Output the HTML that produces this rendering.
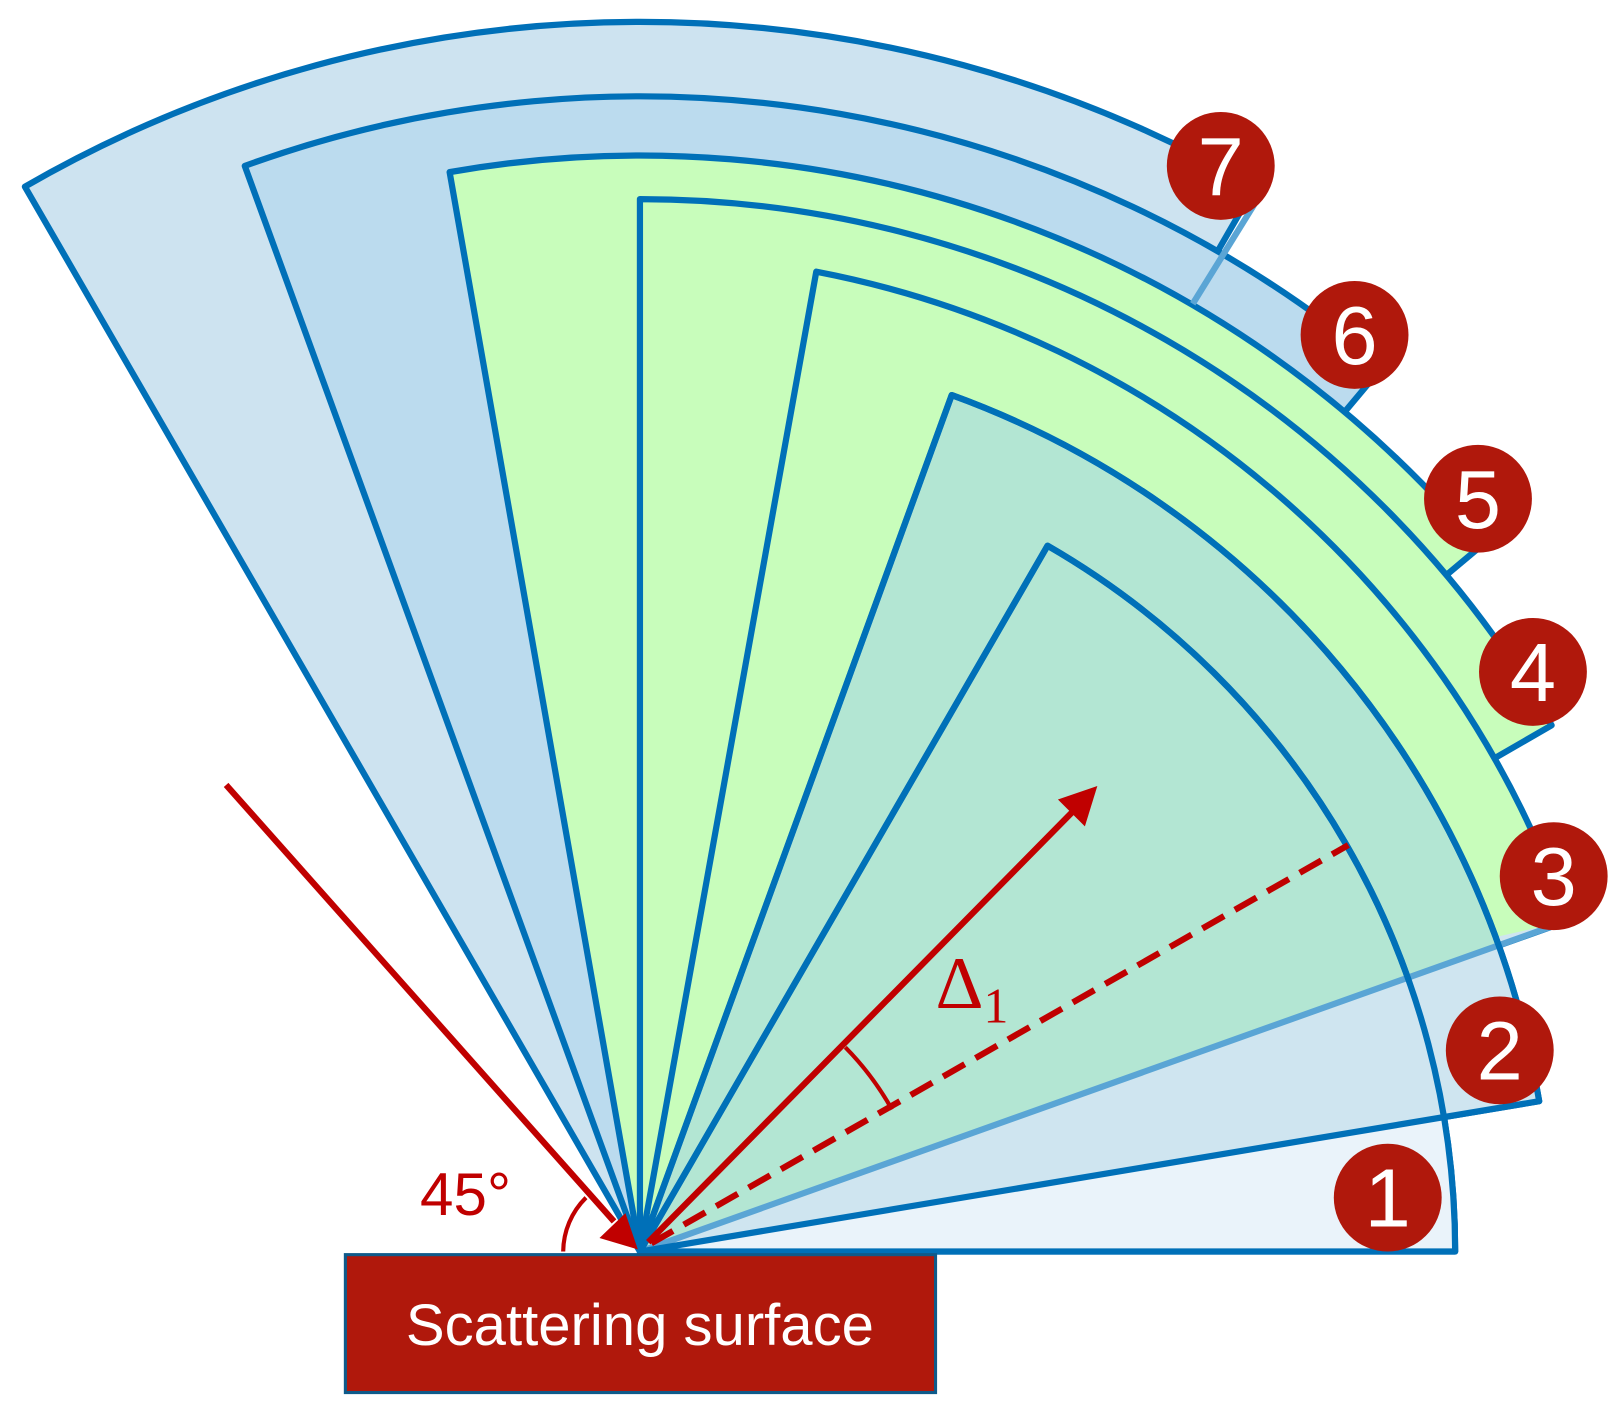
<!DOCTYPE html>
<html><head><style>html,body{margin:0;padding:0;background:#fff}svg{display:block}</style></head>
<body>
<svg width="1618" height="1405" viewBox="0 0 1560 1355" preserveAspectRatio="none" xmlns="http://www.w3.org/2000/svg">
<g stroke="#0070b8" stroke-width="6" stroke-linejoin="round">
<path d="M617,1207 L24,180 A1186,1186 0 0 1 1210,180 Z" fill="#cde3f0"/>
<path d="M617,1207 L236,160 A1114,1114 0 0 1 1333,353.7 Z" fill="#bbdbee"/>
<path d="M617,1207 L433.5,166 A1057,1057 0 0 1 1426.7,527.6 Z" fill="#c8fdbb"/>
<path d="M617,1207 L617,192 A1015,1015 0 0 1 1496,699.5 Z" fill="#c8fdbb"/>
<path d="M617,1207 L787,262 A960,960 0 0 1 1512,888 Z" fill="#c8fdbb"/>
<path d="M617,1207 L917.6,381 A879,879 0 0 1 1484,1062 Z" fill="#b3e6d3"/>
<path d="M617,1207 L1010,526.3 A786,786 0 0 1 1403,1207 Z" fill="#b3e6d3"/>
</g>
<path d="M617,1207 L1484,1062 A879,879 0 0 0 1445,903 L1512,888 Z" fill="#cfe5f0"/>
<path d="M617,1207 L1392,1077 A786,786 0 0 1 1403,1207 Z" fill="#eaf3fa"/>
<line x1="617" y1="1207" x2="1500" y2="892" stroke="#5aa5d5" stroke-width="6"/>
<line x1="1150" y1="293" x2="1210" y2="196" stroke="#5aa5d5" stroke-width="6"/>
<g stroke="#0070b8" stroke-width="6" fill="none" stroke-linejoin="round">
<path d="M617,1207 L917.6,381 A879,879 0 0 1 1484,1062 Z"/>
<path d="M617,1207 L1010,526.3 A786,786 0 0 1 1403,1207 Z"/>
</g>
<g stroke="#c00000" fill="none">
<line x1="218" y1="757" x2="592" y2="1178" stroke-width="6"/>
<line x1="625" y1="1198" x2="1038" y2="779" stroke-width="6"/>
<line x1="628" y1="1199" x2="1300" y2="815" stroke-width="6" stroke-dasharray="24,12"/>
<path d="M815,1010 A279,279 0 0 1 860,1070" stroke-width="4"/>
<path d="M543,1207 A74,74 0 0 1 565,1155" stroke-width="4"/>
</g>
<polygon points="615,1205 578,1194 603,1170" fill="#c00000"/>
<polygon points="1058,758 1046,797 1020,771" fill="#c00000"/>
<text x="902" y="972" font-family="Liberation Serif, serif" font-size="72" fill="#c00000">Δ<tspan font-size="48" dy="14">1</tspan></text>
<text x="405" y="1172" font-family="Liberation Sans, sans-serif" font-size="58" fill="#c00000">45°</text>
<rect x="333" y="1210" width="569" height="133" fill="#b0180c" stroke="#0f5a8a" stroke-width="3"/>
<text x="617" y="1297" text-anchor="middle" font-family="Liberation Sans, sans-serif" font-size="56" fill="#fff">Scattering surface</text>
<g fill="#b0180c">
<circle cx="1177" cy="160" r="52"/><circle cx="1306" cy="323" r="52"/><circle cx="1425" cy="481" r="52"/>
<circle cx="1478" cy="648" r="52"/><circle cx="1498" cy="845" r="52"/><circle cx="1446" cy="1013" r="52"/>
<circle cx="1338" cy="1155" r="52"/>
</g>
<g fill="#fff" font-family="Liberation Sans, sans-serif" font-size="80" text-anchor="middle">
<text x="1177" y="188">7</text><text x="1306" y="351">6</text><text x="1425" y="509">5</text>
<text x="1478" y="676">4</text><text x="1498" y="873">3</text><text x="1446" y="1041">2</text>
<text x="1338" y="1183">1</text>
</g>
</svg>
</body></html>
